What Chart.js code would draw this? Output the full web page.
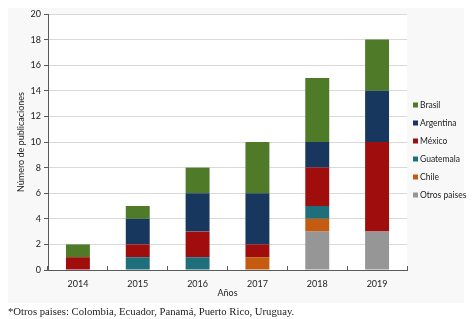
<!DOCTYPE html>
<html>
<head>
<meta charset="utf-8">
<script src="https://cdn.jsdelivr.net/npm/chart.js@4/dist/chart.umd.min.js"></script>
<style>
  html, body { margin: 0; padding: 0; background: #ffffff; }
  #wrap { position: relative; width: 472px; height: 319px; }
  #panel { position: absolute; left: 8px; top: 8px; width: 456px; height: 295px; background: #f8f8f8; }
  canvas { position: absolute; left: 0; top: 0; }
  #note { position: absolute; left: 8px; top: 305px; font-family: "Liberation Serif", "DejaVu Serif", serif; font-size: 10.7px; line-height: 13px; color: #222; white-space: nowrap; }
</style>
</head>
<body>
<div id="wrap">
  <div id="panel"></div>
  <canvas id="c" width="472" height="319"></canvas>
  <div id="note">*Otros paises: Colombia, Ecuador, Panamá, Puerto Rico, Uruguay.</div>
</div>
<script>
const years = ["2014", "2015", "2016", "2017", "2018", "2019"];
const otros     = [0, 0, 0, 0, 3, 3];
const chile     = [0, 0, 0, 1, 1, 0];
const guatemala = [0, 1, 1, 0, 1, 0];
const mexico    = [1, 1, 2, 1, 3, 7];
const argentina = [0, 2, 3, 4, 2, 4];
const brasil    = [1, 1, 2, 4, 5, 4];
const yTicks = [0, 2, 4, 6, 8, 10, 12, 14, 16, 18, 20];

const FONT = "Lato";

const series = [
  { label: "Otros paises", data: otros, color: "#969696" },
  { label: "Chile", data: chile, color: "#c55a11" },
  { label: "Guatemala", data: guatemala, color: "#1f6e7c" },
  { label: "México", data: mexico, color: "#a00d0d" },
  { label: "Argentina", data: argentina, color: "#17375e" },
  { label: "Brasil", data: brasil, color: "#4f7a28" }
];

const plotBg = {
  id: "plotBg",
  beforeDraw(chart) {
    const a = chart.chartArea, ctx = chart.ctx;
    ctx.save();
    ctx.fillStyle = "#ffffff";
    ctx.fillRect(a.left, a.top, a.right - a.left, a.bottom - a.top);
    ctx.restore();
  }
};

const customLegend = {
  id: "customLegend",
  afterDraw(chart) {
    const ctx = chart.ctx;
    const ds = chart.data.datasets;
    const x = 413, y0 = 105, step = 18;
    ctx.save();
    ctx.font = "8.5px " + FONT;
    ctx.textBaseline = "middle";
    ctx.textAlign = "left";
    for (let i = ds.length - 1, k = 0; i >= 0; i--, k++) {
      const y = y0 + k * step;
      ctx.fillStyle = ds[i].backgroundColor;
      ctx.fillRect(x, y - 2.5, 5, 5);
      ctx.fillStyle = "#222222";
      ctx.fillText(ds[i].label, x + 7, y);
    }
    ctx.restore();
  }
};

new Chart(document.getElementById("c"), {
  type: "bar",
  data: {
    labels: years,
    datasets: series.map(s => ({
      label: s.label,
      data: s.data,
      backgroundColor: s.color,
      borderWidth: 0,
      barPercentage: 0.4,
      categoryPercentage: 1.0
    }))
  },
  options: {
    responsive: false,
    animation: false,
    events: [],
    layout: { padding: { left: 12, right: 65, top: 14, bottom: 21 } },
    plugins: {
      legend: { display: false },
      tooltip: { enabled: false },
      title: { display: false }
    },
    scales: {
      x: {
        stacked: true,
        offset: true,
        grid: { display: true, drawOnChartArea: false, offset: true, color: "#595959", tickLength: -4, lineWidth: 1 },
        border: { display: true, color: "#595959", width: 1 },
        ticks: { font: { family: FONT, size: 9 }, color: "#222222", padding: 13, maxRotation: 0 },
        title: { display: true, text: "Años", font: { family: FONT, size: 9 }, color: "#222222", padding: { top: 0, bottom: 0 } },
        afterFit(s) { s.height = 28; }
      },
      y: {
        stacked: true,
        min: 0,
        max: 20,
        afterBuildTicks(s) { s.ticks = yTicks.map(v => ({ value: v })); },
        grid: { color: "#d9d9d9", tickLength: 4, tickColor: "#595959", lineWidth: 1 },
        border: { display: true, color: "#595959", width: 1 },
        ticks: { font: { family: FONT, size: 9 }, color: "#222222", padding: 3 },
        title: { display: true, text: "Número de publicaciones", font: { family: FONT, size: 9 }, color: "#222222", padding: { top: 4, bottom: 0 } },
        afterFit(s) { s.width = 36; }
      }
    }
  },
  plugins: [plotBg, customLegend]
});
</script>
</body>
</html>
